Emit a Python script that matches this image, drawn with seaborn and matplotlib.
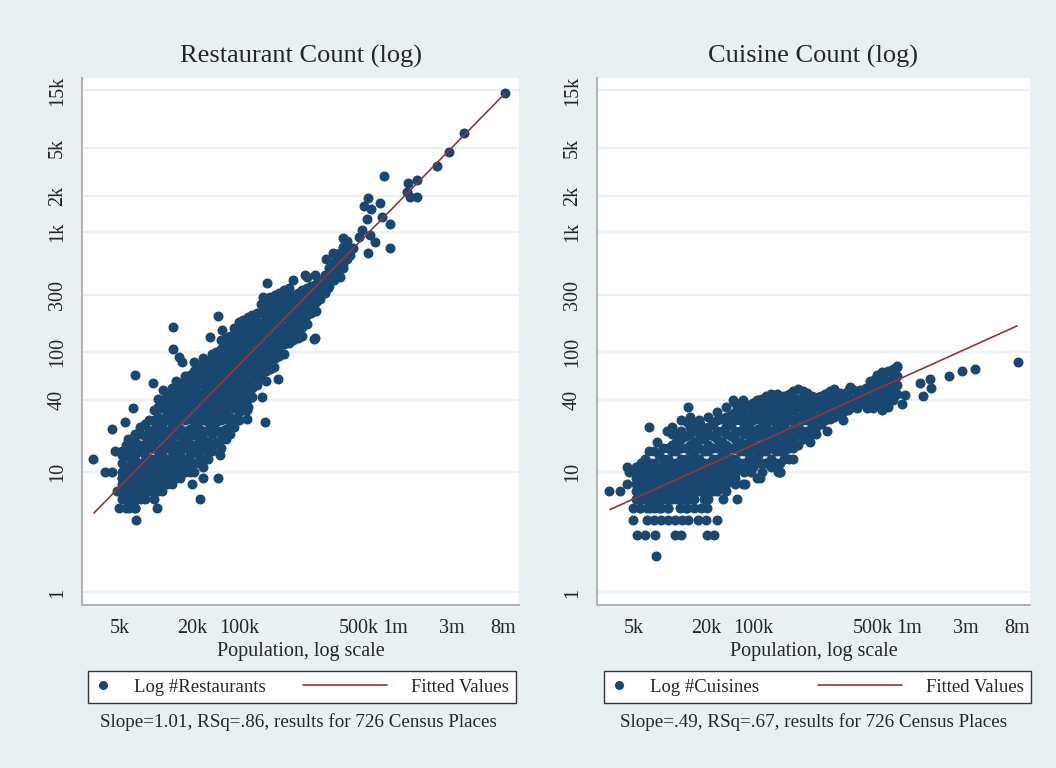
import numpy as np
import pandas as pd
import matplotlib
matplotlib.use("Agg")
import matplotlib.pyplot as plt
import seaborn as sns
from matplotlib.lines import Line2D
from matplotlib.legend_handler import HandlerLine2D

# ---- data (population in thousands, raw counts) ----
# dense part of the restaurant cloud: one population column, many counts
rest_col_pop = [5.19, 6.18, 7.35, 8.74, 10.4, 12.4, 14.7, 17.5, 20.8, 24.7,
                29.4, 35.0, 41.6, 49.5, 58.9, 70.0, 83.3, 99.1, 118, 140,
                167, 199, 236, 281, 334, 398,
                5.66, 6.74, 8.02, 9.54, 11.3, 13.5, 16.0, 19.1, 22.7, 27.0,
                32.1, 38.2, 45.4, 54.0, 64.2, 76.4, 90.8, 108, 129, 153,
                182, 217, 258, 306, 365]
rest_col_counts = [
    [15, 12, 10, 9, 8, 7, 6],
    [19, 16, 13, 11, 10, 9, 8, 7, 6],
    [24, 21, 17, 15, 12, 10, 9, 8, 7],
    [27, 22, 19, 16, 13, 11, 10, 9, 8, 7],
    [41, 35, 29, 24, 21, 17, 15, 12, 10, 9, 8, 7],
    [45, 38, 32, 27, 22, 19, 16, 13, 11, 10, 9, 8],
    [58, 49, 41, 35, 29, 24, 21, 17, 15, 12, 10, 9],
    [63, 53, 45, 38, 32, 27, 22, 19, 16, 13, 11, 10],
    [82, 69, 58, 49, 41, 35, 29, 24, 21, 17, 15, 12, 10],
    [89, 75, 63, 53, 45, 38, 32, 27, 22, 19, 16, 13, 11],
    [97, 82, 69, 58, 49, 41, 35, 29, 24, 21, 17, 15],
    [126, 106, 89, 75, 63, 53, 45, 38, 32, 27, 22, 19, 16],
    [137, 116, 97, 82, 69, 58, 49, 41, 35, 29, 24, 21],
    [178, 150, 126, 106, 89, 75, 63, 53, 45, 38, 32, 27],
    [194, 163, 137, 116, 97, 82, 69, 58, 49, 41, 35],
    [212, 178, 150, 126, 106, 89, 75, 63, 53],
    [274, 231, 194, 163, 137, 116, 97, 82, 69, 58],
    [299, 251, 212, 178, 150, 126, 106, 89],
    [326, 274, 231, 194, 163, 137, 116, 97],
    [299, 251, 212, 178, 150, 126],
    [326, 274, 231, 194, 163, 137],
    [355, 299, 251, 212],
    [387, 326, 274],
    [501, 422, 355],
    [649, 546, 460],
    [840, 707, 595],
    # in-between columns where the cloud is solid
    [17, 14, 11, 9, 8, 7, 6, 5],
    [21, 18, 14, 12, 10, 9, 8, 7, 6, 5],
    [25, 20, 17, 14, 12, 10, 9, 8, 7, 6],
    [33, 27, 23, 19, 16, 13, 11, 10, 9, 8, 7, 6],
    [40, 34, 28, 24, 20, 17, 14, 12, 10, 9, 8, 7],
    [50, 42, 35, 30, 25, 21, 18, 15, 13, 11, 9, 8],
    [55, 46, 39, 33, 28, 23, 20, 17, 14, 12, 10, 9],
    [65, 55, 46, 39, 33, 28, 23, 20, 17, 14, 12, 10],
    [76, 64, 54, 45, 38, 32, 27, 23, 19, 16, 14, 12],
    [85, 72, 61, 51, 43, 36, 30, 26, 22, 18, 15, 13],
    [100, 85, 72, 61, 51, 43, 37, 31, 26, 22, 18],
    [131, 110, 93, 78, 66, 55, 47, 40, 33, 28, 23, 19],
    [160, 134, 113, 95, 80, 67, 56, 47, 40, 34, 28, 24],
    [185, 156, 131, 110, 93, 78, 66, 55, 47, 39, 33],
    [203, 171, 144, 121, 101, 85, 72, 60, 50, 42],
    [250, 210, 176, 148, 124, 104, 88, 74, 62],
    [286, 240, 202, 170, 143, 120, 101, 85, 72],
    [312, 262, 220, 185, 156, 131, 110, 93],
    [340, 286, 240, 202, 170, 143, 120],
    [312, 262, 220, 185, 156, 131],
    [340, 286, 240, 202, 170],
    [370, 311, 262, 220],
    [440, 370, 311],
    [560, 470, 400],
    [750, 630, 530],
]
# single places around the cloud
rest_pop = [8340, 3780, 2830, 2250, 810, 1285, 1530, 1260, 1530, 1340,
            594, 551, 630, 750, 584, 778, 908, 530, 618, 681,
            500, 367, 908, 594, 446, 421, 347, 265, 303, 327,
            367, 303, 347, 250, 275, 206, 184, 236, 206, 160,
            170, 214, 177, 140, 214, 85, 79, 33, 13.9, 210,
            28.3, 35.7, 13.9, 15.6, 16.5, 97, 105, 77, 58, 58,
            82, 52.5, 43, 35.7, 34.3, 6.7, 9.4, 11.5, 6.4, 5.5,
            4.3, 5.8, 4.5, 5.2, 2.97, 3.75, 4.3, 5.2, 5.0, 4.7,
            4.9, 5.9, 6.7, 6.8, 10.2, 7.35, 23.3, 20, 24.8, 33]
rest_count = [14300, 6650, 4620, 3540, 2920, 2550, 2700, 2150, 1950, 1950,
              1900, 1640, 1550, 1740, 1280, 1330, 1160, 1040, 942, 824,
              908, 891, 735, 667, 735, 642, 667, 595, 667, 551,
              501, 455, 421, 398, 341, 348, 421, 287, 237, 256,
              185, 131, 438, 398, 438, 376, 287, 200, 162, 128,
              134, 153, 106, 91, 83, 75, 60, 42, 33, 28,
              26, 46, 24, 19, 14, 65, 55, 48, 34, 26,
              23, 19, 15, 14, 13, 10, 10, 9, 7, 7,
              5, 5, 5, 4, 5, 6, 6, 8, 9, 9]
# Stata's fitted-values line, its two ends
rest_fit_pop = [3.03, 8340]
rest_fit = [4.59, 14200]

# dense part of the cuisine cloud
cuis_col_pop = [5.19, 6.18, 7.35, 8.74, 10.4, 12.4, 14.7, 17.5, 20.8, 24.7,
                29.4, 35.0, 41.6, 49.5, 58.9, 70.0, 83.3, 99.1, 118, 140,
                167, 199, 236, 281, 334, 398, 472, 561, 668, 794,
                5.66, 6.74, 8.02, 9.54, 11.3, 13.5, 16.0, 19.1, 22.7, 27.0,
                32.1, 38.2, 45.4, 54.0, 64.2, 76.4, 90.8, 108, 129, 153,
                182, 217, 258, 306, 365, 433, 515, 612, 730]
cuis_col_counts = [
    [11, 10, 9, 8, 7, 6],
    [13, 11, 10, 9, 8, 7, 6],
    [15, 12, 10, 9, 8, 7, 6],
    [16, 13, 11, 10, 9, 8, 7, 6],
    [24, 21, 17, 15, 12, 10, 9, 8, 7, 6],
    [27, 22, 19, 16, 13, 11, 10, 9, 8, 7, 6],
    [29, 24, 21, 17, 15, 12, 10, 9, 8, 7, 6],
    [27, 22, 19, 16, 13, 11, 10, 9, 8, 7],
    [29, 24, 21, 17, 15, 12, 10, 9, 8, 7, 6],
    [32, 27, 22, 19, 16, 13, 11, 10, 9, 8, 7],
    [35, 29, 24, 21, 17, 15, 12, 10, 9, 8, 7],
    [38, 32, 27, 22, 19, 16, 13, 11, 10, 9, 8],
    [35, 29, 24, 21, 17, 15, 12, 10],
    [38, 32, 27, 22, 19, 16, 13, 11],
    [41, 35, 29, 24, 21, 17, 15, 12],
    [45, 38, 32, 27, 22, 19, 16, 13, 11],
    [41, 35, 29, 24, 21, 17, 15, 12, 10],
    [45, 38, 32, 27, 22, 19, 16, 13],
    [49, 41, 35, 29, 24, 21, 17],
    [45, 38, 32, 27, 22, 19],
    [41, 35, 29, 24, 21],
    [45, 38, 32, 27],
    [49, 41, 35, 29],
    [45, 38, 32],
    [49, 41, 35],
    [45, 38],
    [58, 49, 41, 35],
    [63, 53, 45, 38],
    [69, 58, 49, 41, 35],
    [75, 63, 53, 45],
    # in-between columns where the cloud is solid
    [10, 8, 7, 6, 5],
    [12, 10, 9, 8, 7, 6, 5],
    [14, 11, 9, 8, 7, 6, 5],
    [16, 13, 11, 9, 8, 7, 6, 5],
    [18, 15, 12, 10, 9, 8, 7, 6],
    [20, 16, 13, 11, 9, 8, 7, 6, 5],
    [22, 18, 14, 12, 10, 9, 8, 7, 6],
    [23, 19, 15, 12, 10, 9, 8, 7, 6],
    [25, 20, 16, 13, 11, 9, 8, 7],
    [28, 22, 18, 14, 12, 10, 9, 8],
    [30, 25, 20, 16, 13, 11, 10, 9],
    [32, 27, 22, 18, 15, 12, 11],
    [36, 30, 25, 21, 18, 15, 13, 11],
    [40, 33, 28, 23, 20, 16, 14, 12],
    [43, 36, 30, 25, 21, 18, 15, 12],
    [43, 36, 30, 25, 21, 18, 15, 12],
    [43, 36, 30, 25, 21, 18, 15, 13],
    [47, 39, 33, 27, 23, 19, 16],
    [47, 39, 33, 27, 22, 19],
    [43, 36, 30, 25, 21],
    [43, 36, 30, 25],
    [47, 39, 33, 28],
    [45, 38, 32],
    [47, 39, 33],
    [47, 40, 34],
    [50, 42, 36],
    [60, 51, 43, 36],
    [66, 56, 47, 40],
    [72, 61, 51, 43],
]
# small places sitting on whole-number rows at the bottom
cuis_row_count = [5, 4, 3, 2]
cuis_row_pops = [
    [4.9, 5.6, 6.42, 7.35, 8.41, 9.63, 12.1, 13.9, 15.9, 18.2, 20.4],
    [4.9, 6.42, 7.35, 8.41, 9.63, 11.0, 12.6, 14.1, 17.2, 20.0, 24.7],
    [5.3, 6.2, 7.5, 11.0, 12.4, 20.4, 23.3],
    [7.6],
]
cuis_pop = [3.09, 3.82, 4.37, 4.5, 4.37, 5.72, 6.67, 6.67, 7.8, 9.45,
            11.7, 13.9, 15.6, 14.1, 17.8, 33.9, 38.6, 40.9, 49.6, 53.5,
            56.7, 78.6, 80, 88, 101, 140, 174, 211, 265, 322,
            391, 543, 597, 794, 554, 520, 570, 736, 736, 655,
            736, 655, 597, 500, 448, 391, 1245, 1505, 1530, 1310,
            924, 874, 2160, 2760, 3600, 8180, 42.5, 56.7, 48, 53.5,
            80, 107, 148, 36.3, 27.7, 40.9, 58.9, 83, 207, 281]
cuis_count = [7, 7, 11, 10, 8, 12, 15, 24, 18, 22,
              21, 26, 26, 35, 25, 40, 38, 40, 38, 40,
              40, 45, 44, 42, 45, 46, 42, 46, 46, 51,
              48, 64, 68, 76, 60, 55, 55, 58, 48, 44,
              40, 37, 33, 34, 34, 40, 55, 60, 50, 43,
              44, 37, 63, 70, 72, 83, 8, 9, 10, 9,
              10, 13, 18, 6, 6, 8, 10, 10, 22, 27]
cuis_fit_pop = [3.15, 8020]
cuis_fit = [4.90, 165]

x_ticks = [5e3, 2e4, 5e4, 5e5, 1e6, 3e6, 8e6]
x_labels = ["5k", "20k", "100k", "500k", "1m", "3m", "8m"]
y_ticks = [1, 10, 40, 100, 300, 1000, 2000, 5000, 15000]
y_labels = ["1", "10", "40", "100", "300", "1k", "2k", "5k", "15k"]

titles = ["Restaurant Count (log)", "Cuisine Count (log)"]
series_names = ["Log #Restaurants", "Log #Cuisines"]
notes = ["Slope=1.01, RSq=.86, results for 726 Census Places",
         "Slope=.49, RSq=.67, results for 726 Census Places"]

NAVY = "#1a476f"
MAROON = "#90353b"
BG = "#e9f0f2"
GRID = "#eaf1f3"


def build_frame(col_pop, col_counts, pops, counts, row_counts=(), row_pops=()):
    p, c = [], []
    for pop, cs in zip(col_pop, col_counts):
        p += [pop] * len(cs)
        c += cs
    for cnt, ps in zip(row_counts, row_pops):
        p += ps
        c += [cnt] * len(ps)
    p += pops
    c += counts
    return pd.DataFrame({"logpop": np.log10(np.array(p) * 1000.0),
                         "logn": np.log10(np.array(c, dtype=float))})


frames = [
    build_frame(rest_col_pop, rest_col_counts, rest_pop, rest_count),
    build_frame(cuis_col_pop, cuis_col_counts, cuis_pop, cuis_count,
                cuis_row_count, cuis_row_pops),
]
fits = [
    pd.DataFrame({"logpop": np.log10(np.array(rest_fit_pop) * 1000.0),
                  "logn": np.log10(rest_fit)}),
    pd.DataFrame({"logpop": np.log10(np.array(cuis_fit_pop) * 1000.0),
                  "logn": np.log10(cuis_fit)}),
]


class LongKey(HandlerLine2D):
    # Stata draws the line key much wider than the marker key
    def get_xdata(self, legend, xdescent, ydescent, width, height, fontsize):
        _, xm = super().get_xdata(legend, xdescent, ydescent, width, height, fontsize)
        return [-xdescent - 4.6 * width, -xdescent + width], xm


sns.set_style("white")
plt.rcParams["font.family"] = ["Liberation Serif", "DejaVu Serif"]

W, H = 1056, 768
fig = plt.figure(figsize=(W / 100, H / 100), dpi=100, facecolor=BG)

panels = [
    dict(box=(82, 78, 519, 605), xlim=(3.381, 7.038), leg=(88, 516), note_x=298),
    dict(box=(597, 78, 1030, 605), xlim=(3.389, 7.013), leg=(604, 1031), note_x=814),
]

for i, (df, pn) in enumerate(zip(frames, panels)):
    x0, y0, x1, y1 = pn["box"]
    ax = fig.add_axes([x0 / W, 1 - y1 / H, (x1 - x0) / W, (y1 - y0) / H])
    ax.set_facecolor("white")
    for t in y_ticks:
        ax.axhline(np.log10(t), color=GRID, lw=1.6, zorder=0)

    sns.scatterplot(data=df, x="logpop", y="logn", ax=ax, color=NAVY, s=52,
                    linewidth=0, legend=False, zorder=2)
    sns.lineplot(data=fits[i], x="logpop", y="logn", ax=ax, color=MAROON,
                 lw=1.2, zorder=3)

    ax.set_xlim(*pn["xlim"])
    ax.set_ylim(-0.104, 4.28)
    ax.set_xticks(np.log10(x_ticks))
    ax.set_xticklabels(x_labels)
    ax.set_yticks(np.log10(y_ticks))
    ax.set_yticklabels(y_labels, rotation=90, va="center")
    ax.tick_params(axis="both", direction="out", length=5, width=1,
                   color="#555555", labelsize=14.5, pad=5)
    ax.tick_params(axis="y", pad=6)
    for side in ["top", "right"]:
        ax.spines[side].set_visible(False)
    for side in ["left", "bottom"]:
        ax.spines[side].set_color("#b4b4b4")
        ax.spines[side].set_linewidth(1.5)

    ax.set_xlabel("Population, log scale", fontsize=14.5, labelpad=3)
    ax.set_ylabel("")
    ax.set_title(titles[i], fontsize=19, pad=11)

    dot = Line2D([], [], ls="", marker="o", ms=6.5, mew=0, color=NAVY)
    fit = Line2D([], [], color=MAROON, lw=1.2)
    lx0, lx1 = pn["leg"]
    leg = ax.legend([dot, fit], [series_names[i], "Fitted Values"], ncol=2,
                    mode="expand", loc="upper left",
                    bbox_to_anchor=(lx0 / W, 1 - 671 / H, (lx1 - lx0) / W, 0),
                    bbox_transform=fig.transFigure, frameon=True, fancybox=False,
                    edgecolor="#333333", facecolor="white", framealpha=1,
                    fontsize=13.5, borderpad=0.4, handlelength=0.8,
                    handletextpad=1.25, borderaxespad=0,
                    handler_map={fit: LongKey()})
    leg.get_frame().set_linewidth(1.0)

    fig.text(pn["note_x"] / W, 1 - 722 / H, notes[i], ha="center", va="center",
             fontsize=13.7)

fig.savefig("out.png", dpi=100, facecolor=BG)
